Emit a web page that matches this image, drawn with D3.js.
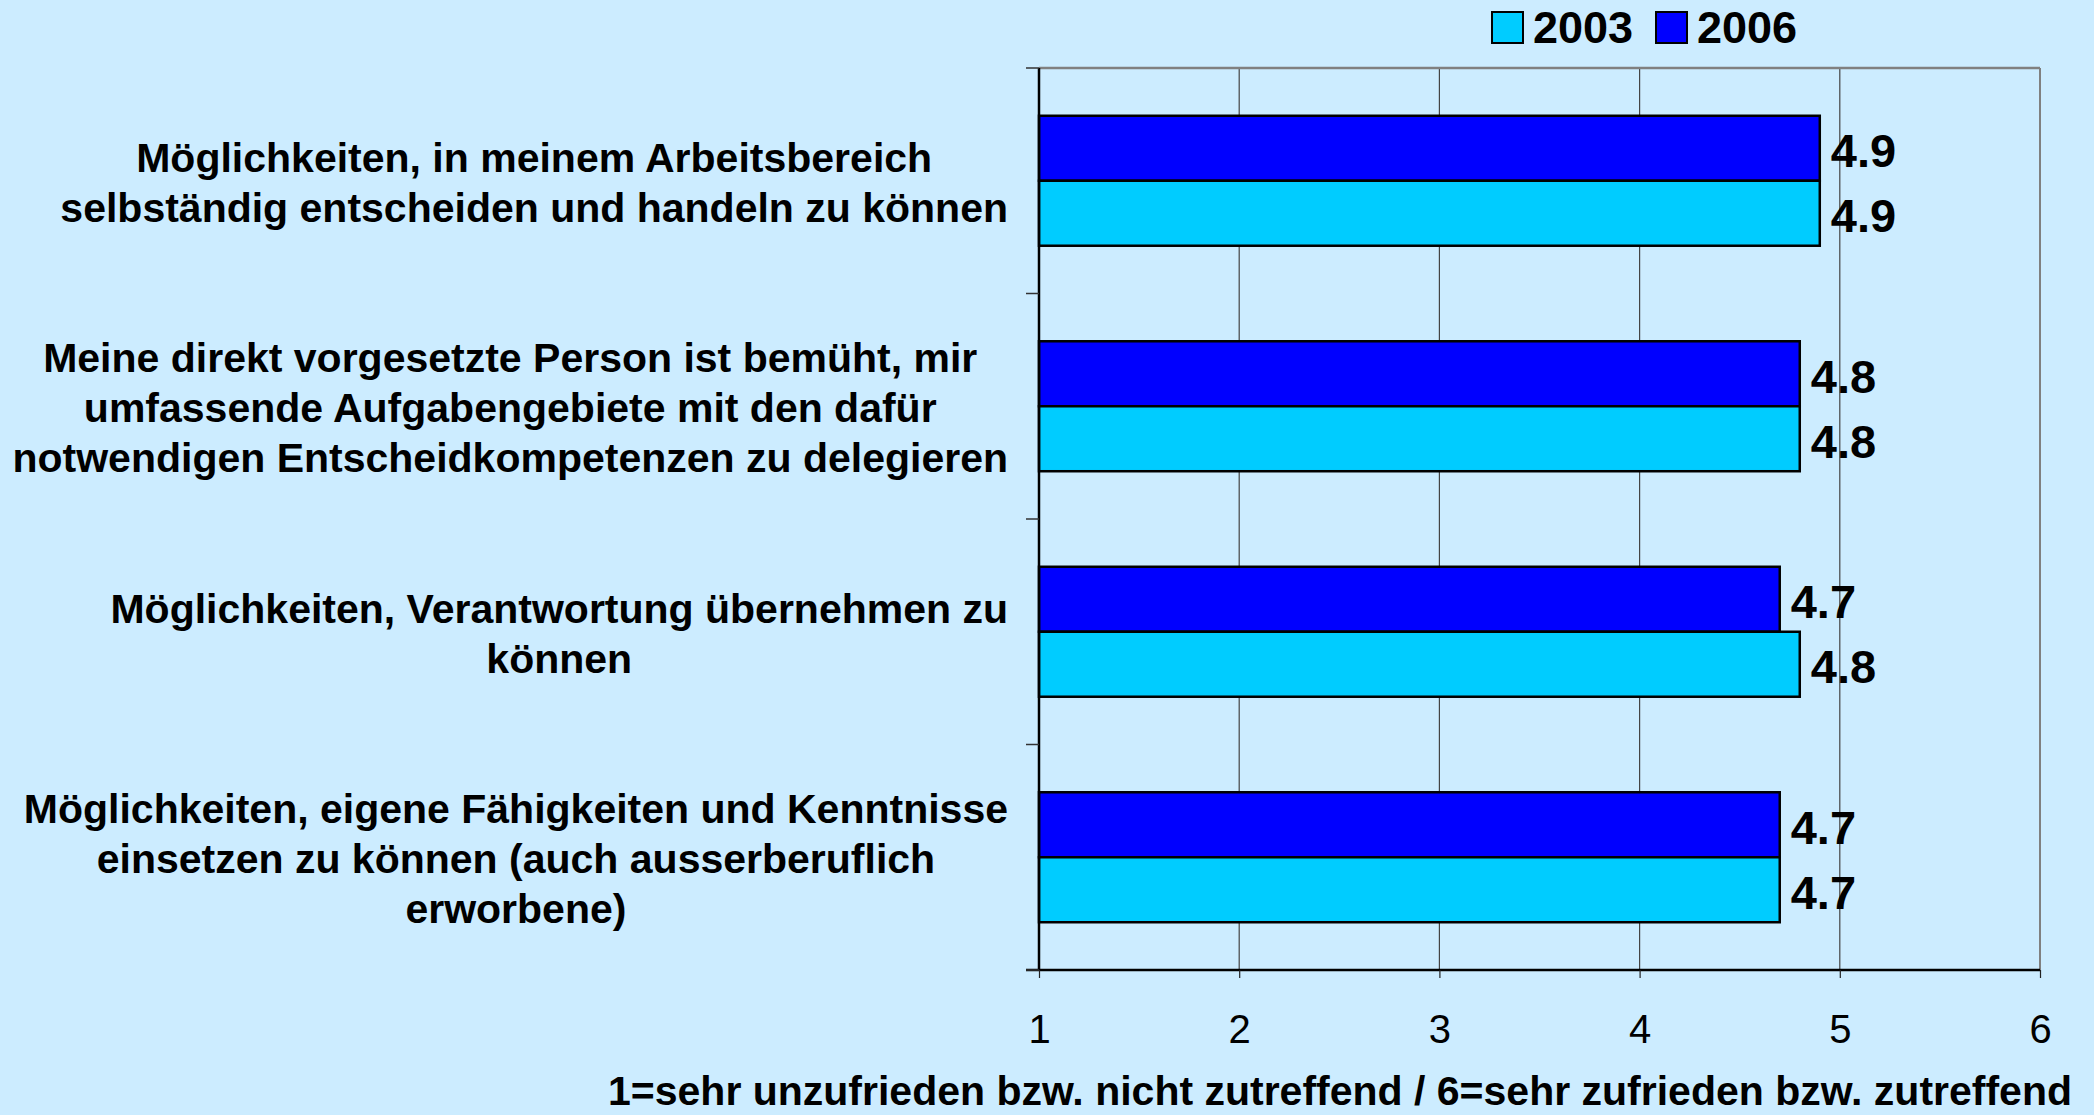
<!DOCTYPE html>
<html>
<head>
<meta charset="utf-8">
<script src="https://cdn.jsdelivr.net/npm/d3@7/dist/d3.min.js"></script>
<style>
  html, body { margin: 0; padding: 0; background: #CCECFF; }
  svg { display: block; }
  text { font-family: "Liberation Sans", Arial, sans-serif; }
</style>
</head>
<body>
<svg id="chart" width="2094" height="1115"></svg>
<script>
const categories = [
  ["Möglichkeiten, in meinem Arbeitsbereich", "selbständig entscheiden und handeln zu können"],
  ["Meine direkt vorgesetzte Person ist bemüht, mir", "umfassende Aufgabengebiete mit den dafür", "notwendigen Entscheidkompetenzen zu delegieren"],
  ["Möglichkeiten, Verantwortung übernehmen zu", "können"],
  ["Möglichkeiten, eigene Fähigkeiten und Kenntnisse", "einsetzen zu können (auch ausserberuflich", "erworbene)"]
];
const seriesNames = ["2006", "2003"];
const values2006 = [4.9, 4.8, 4.7, 4.7];
const values2003 = [4.9, 4.8, 4.8, 4.7];
const xTicks = [1, 2, 3, 4, 5, 6];
const axisTitle = "1=sehr unzufrieden bzw. nicht zutreffend / 6=sehr zufrieden bzw. zutreffend";
const colors = { "2006": "#0000FF", "2003": "#00CCFF" };
const legendOrder = ["2003", "2006"];

(function () {
const svg = d3.select("#chart");
const W = 2094, H = 1115;
svg.append("rect").attr("width", W).attr("height", H).attr("fill", "#CCECFF");

const pL = 1039, pR = 2040, pT = 68, pB = 970;
const x = d3.scaleLinear().domain([1, 6]).range([pL, pR]);
const y = d3.scaleBand().domain(d3.range(categories.length)).range([pT, pB]).paddingInner(0).paddingOuter(0);
const inner = d3.scaleBand().domain(seriesNames).range([0, y.bandwidth()]).paddingOuter(0.735).paddingInner(0);

// gridlines
svg.append("g").selectAll("line").data(xTicks.slice(1, -1)).join("line")
  .attr("x1", d => x(d)).attr("x2", d => x(d))
  .attr("y1", pT).attr("y2", pB)
  .attr("stroke", "#444").attr("stroke-width", 1.2);

// top and right border
svg.append("line").attr("x1", pL).attr("x2", pR).attr("y1", pT).attr("y2", pT)
  .attr("stroke", "#808080").attr("stroke-width", 2.5);
svg.append("line").attr("x1", pR).attr("x2", pR).attr("y1", pT).attr("y2", pB)
  .attr("stroke", "#808080").attr("stroke-width", 2);

// bars
const data = [];
categories.forEach((c, i) => {
  data.push({ i, s: "2006", v: values2006[i] });
  data.push({ i, s: "2003", v: values2003[i] });
});
const g = svg.append("g");
g.selectAll("rect").data(data).join("rect")
  .attr("x", x(1))
  .attr("y", d => y(d.i) + inner(d.s))
  .attr("width", d => x(d.v) - x(1))
  .attr("height", inner.bandwidth())
  .attr("fill", d => colors[d.s])
  .attr("stroke", "#000").attr("stroke-width", 2.5);

// value labels
g.selectAll("text.val").data(data).join("text")
  .attr("class", "val")
  .attr("x", d => x(d.v) + 11)
  .attr("y", d => y(d.i) + inner(d.s) + inner.bandwidth() / 2 + 19)
  .attr("font-size", 47).attr("font-weight", "bold").attr("fill", "#000")
  .text(d => d.v.toFixed(1));

// x axis
const xAxis = d3.axisBottom(x).tickValues(xTicks).tickSize(8).tickPadding(30).tickFormat(d3.format("d"));
const xg = svg.append("g").attr("transform", `translate(0,${pB})`).call(xAxis);
xg.select(".domain").attr("stroke", "#000").attr("stroke-width", 2.5).attr("d", `M${pL - 13},0H${pR}`);
xg.selectAll(".tick line").attr("stroke", "#222").attr("stroke-width", 1.2);
xg.selectAll(".tick text").attr("font-size", 40).attr("fill", "#000")
  .attr("font-family", "Liberation Sans, Arial, sans-serif").attr("dy", 0).attr("y", 73);

// y axis
const yAxis = d3.axisLeft(y).tickValues([]).tickSize(0);
const yg = svg.append("g").attr("transform", `translate(${pL},0)`).call(yAxis);
yg.select(".domain").attr("stroke", "#000").attr("stroke-width", 2.5).attr("d", `M0,${pT}V${pB}`);
const boundaries = d3.range(categories.length + 1).map(i => pT + i * y.step());
svg.append("g").selectAll("line").data(boundaries).join("line")
  .attr("x1", pL - 13).attr("x2", pL).attr("y1", d => d).attr("y2", d => d)
  .attr("stroke", "#333").attr("stroke-width", 1.5);

// category labels
const labelRight = 1008, lineH = 50;
categories.forEach((lines, i) => {
  const grp = svg.append("g");
  const texts = lines.map((l, j) => grp.append("text")
    .attr("font-size", 41).attr("font-weight", "bold").attr("fill", "#000")
    .attr("text-anchor", "middle").text(l));
  const maxW = d3.max(texts, t => t.node().getComputedTextLength());
  const cx = labelRight - maxW / 2;
  const cy = y(i) + y.bandwidth() / 2 + 2;
  const n = lines.length;
  texts.forEach((t, j) => {
    t.attr("x", cx).attr("y", cy + (j - (n - 1) / 2) * lineH + 14);
  });
});

// legend
const legX = { "2003": 1492, "2006": 1656 };
legendOrder.forEach(s => {
  svg.append("rect").attr("x", legX[s]).attr("y", 12).attr("width", 31).attr("height", 31)
    .attr("fill", colors[s]).attr("stroke", "#000").attr("stroke-width", 2);
  svg.append("text").attr("x", legX[s] + 41).attr("y", 43)
    .attr("font-size", 45).attr("font-weight", "bold").attr("fill", "#000").text(s);
});

// axis title
svg.append("text").attr("x", 1340).attr("y", 1105).attr("text-anchor", "middle")
  .attr("font-size", 41).attr("font-weight", "bold").attr("fill", "#000").text(axisTitle);
})();
</script>
</body>
</html>
